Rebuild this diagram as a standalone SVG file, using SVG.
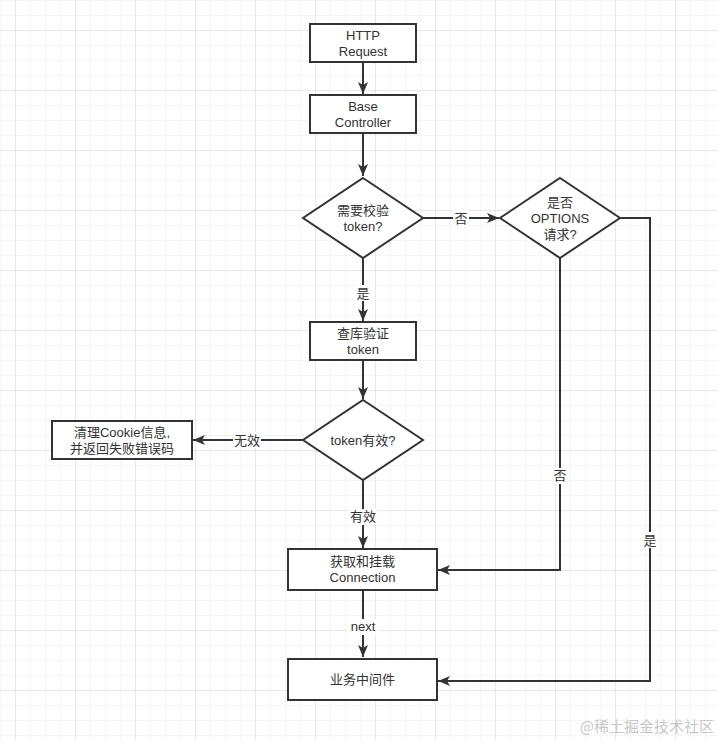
<svg xmlns="http://www.w3.org/2000/svg" width="717" height="740" viewBox="0 0 717 740">
<defs>
<pattern id="minor" width="15" height="15" patternUnits="userSpaceOnUse">
<path d="M0 0H15M0 0V15" fill="none" stroke="#ececec" stroke-width="1"/>
</pattern>
<pattern id="major" width="60" height="60" patternUnits="userSpaceOnUse" patternTransform="translate(15,30)">
<path d="M0 0H60M0 0V60" fill="none" stroke="#dcdcdc" stroke-width="1"/>
</pattern>
<marker id="arr" markerUnits="userSpaceOnUse" markerWidth="14" markerHeight="12" refX="12" refY="5" orient="auto">
<path d="M0 0L12 5L0 10L3 5Z" fill="#333"/>
</marker>
<style>
.box{fill:#fff;stroke:#333;stroke-width:2}
.t{font-family:"Liberation Sans","Noto Sans CJK SC",sans-serif;font-size:13px;fill:#333;text-anchor:middle}
.e{fill:none;stroke:#333;stroke-width:2}
.lb{fill:#fff}
</style>
</defs>
<rect width="717" height="740" fill="#fff"/>
<rect width="717" height="740" fill="url(#minor)"/>
<rect width="717" height="740" fill="url(#major)"/>

<g id="edges">
<path class="e" d="M363 62V94" marker-end="url(#arr)"/>
<path class="e" d="M363 133V176" marker-end="url(#arr)"/>
<path class="e" d="M423 218H499" marker-end="url(#arr)"/>
<rect class="lb" x="453" y="210" width="16" height="16"/>
<text class="t" x="461" y="222.5">否</text>
<path class="e" d="M363 258V321" marker-end="url(#arr)"/>
<rect class="lb" x="355" y="285" width="16" height="16"/>
<text class="t" x="363" y="298">是</text>
<path class="e" d="M363 361V399" marker-end="url(#arr)"/>
<path class="e" d="M303 440H193" marker-end="url(#arr)"/>
<rect class="lb" x="233" y="432" width="28" height="16"/>
<text class="t" x="247" y="444.5">无效</text>
<path class="e" d="M363 480V548" marker-end="url(#arr)"/>
<rect class="lb" x="349" y="509" width="28" height="16"/>
<text class="t" x="363" y="521">有效</text>
<path class="e" d="M560 258V570H438" marker-end="url(#arr)"/>
<rect class="lb" x="552" y="468" width="16" height="16"/>
<text class="t" x="560" y="480">否</text>
<path class="e" d="M620 218H650V681H438" marker-end="url(#arr)"/>
<rect class="lb" x="642" y="532" width="16" height="16"/>
<text class="t" x="650" y="544.5">是</text>
<path class="e" d="M363 590V657" marker-end="url(#arr)"/>
<rect class="lb" x="347" y="619" width="32" height="16"/>
<text class="t" x="363" y="631">next</text>
</g>

<g id="httpRequest">
<rect class="box" x="310" y="24" width="106" height="38"/>
<text class="t" x="363" y="39.5">HTTP</text>
<text class="t" x="363" y="55.5">Request</text>
</g>
<g id="baseController">
<rect class="box" x="310" y="95" width="106" height="38"/>
<text class="t" x="363" y="110.5">Base</text>
<text class="t" x="363" y="126.5">Controller</text>
</g>
<g id="needCheck">
<path class="box" d="M363 178L423 218L363 258L303 218Z"/>
<text class="t" x="363" y="214.5">需要校验</text>
<text class="t" x="363" y="230.5">token?</text>
</g>
<g id="isOptions">
<path class="box" d="M560 178L620 218L560 258L500 218Z"/>
<text class="t" x="560" y="206.5">是否</text>
<text class="t" x="560" y="222.5">OPTIONS</text>
<text class="t" x="560" y="238.5">请求?</text>
</g>
<g id="queryToken">
<rect class="box" x="310" y="322" width="106" height="38"/>
<text class="t" x="363" y="337.5">查库验证</text>
<text class="t" x="363" y="353.5">token</text>
</g>
<g id="tokenValid">
<path class="box" d="M363 400L423 440L363 480L303 440Z"/>
<text class="t" x="363" y="444.5">token有效?</text>
</g>
<g id="clearCookie">
<rect class="box" x="52" y="421" width="140" height="38"/>
<text class="t" x="122" y="436.5">清理Cookie信息,</text>
<text class="t" x="122" y="452.5">并返回失败错误码</text>
</g>
<g id="getConnection">
<rect class="box" x="288" y="549" width="149" height="41"/>
<text class="t" x="362.5" y="566">获取和挂载</text>
<text class="t" x="362.5" y="582">Connection</text>
</g>
<g id="business">
<rect class="box" x="288" y="659" width="149" height="41"/>
<text class="t" x="362.5" y="684">业务中间件</text>
</g>
<text x="714" y="732" font-family="'Noto Sans CJK SC',sans-serif" font-size="15" fill="#c8c8c8" text-anchor="end">@稀土掘金技术社区</text>
</svg>
